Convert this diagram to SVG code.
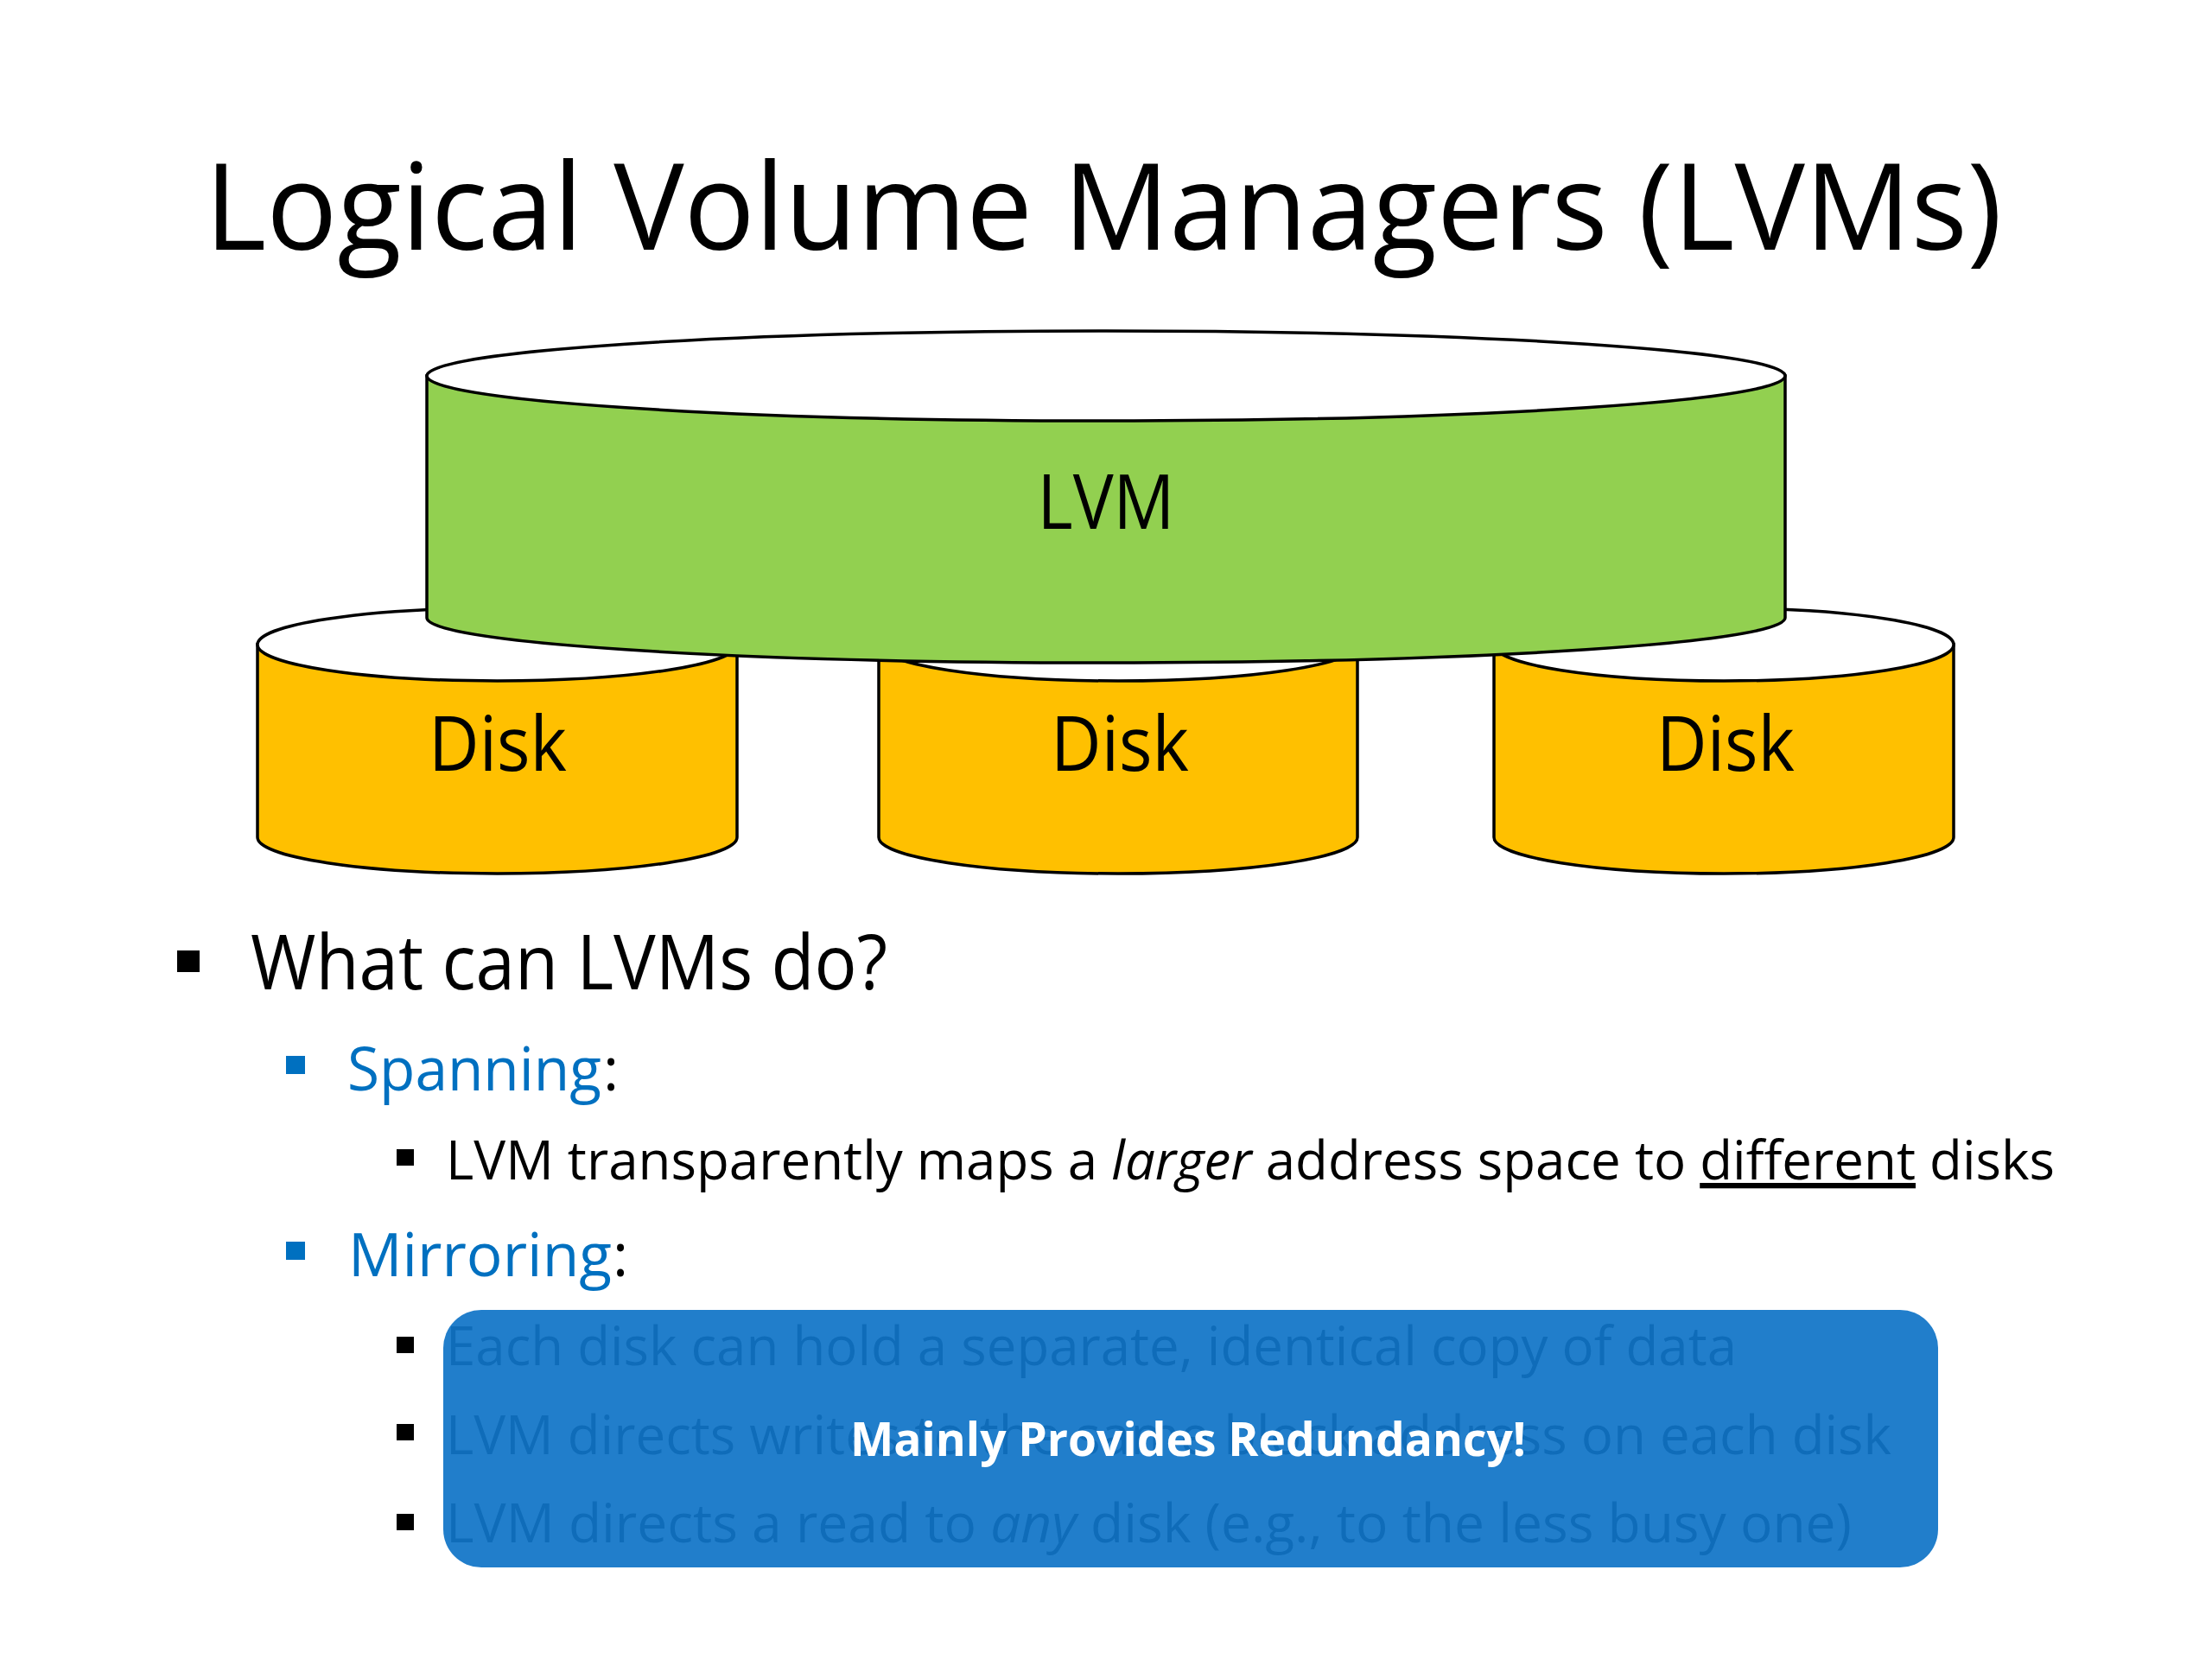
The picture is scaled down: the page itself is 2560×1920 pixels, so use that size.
<svg xmlns="http://www.w3.org/2000/svg" width="2560" height="1920" viewBox="0 0 2560 1920">
<style>
text { font-family: "Open Sans", "Noto Sans", "Liberation Sans", sans-serif; fill: #000; }
.title { font-size: 139px; }
.lbl { font-size: 88px; text-anchor: middle; }
.l1 { font-size: 87px; }
.l2 { font-size: 69px; }
.l3 { font-size: 63px; }
.blue { fill: #0070c0; }
.cap { fill: #fff; stroke: #000; stroke-width: 3.5; }
.green { fill: #92d050; stroke: #000; stroke-width: 3.5; }
.yellow { fill: #ffc000; stroke: #000; stroke-width: 3.5; }
.b1 { fill: #000; }
.b2 { fill: #0070c0; }
.hl { font-size: 53px; font-weight: 700; fill: #fff; }
.box { fill: #1074c7; fill-opacity: 0.93; }
</style>
<rect width="2560" height="1920" fill="#fff"/>
<g id="title">
<text class="title" x="237" y="289" textLength="2080" lengthAdjust="spacingAndGlyphs">Logical Volume Managers (LVMs)</text>
</g>
<g id="connectors"></g>
<g id="disk1">
<path class="yellow" d="M298,746 V969 A277.5,42 0 0 0 853,969 V746 Z"/>
<ellipse class="cap" cx="575.5" cy="746" rx="277.5" ry="42"/>
<text class="lbl" x="576" y="892" textLength="160" lengthAdjust="spacingAndGlyphs">Disk</text>
</g>
<g id="disk2">
<path class="yellow" d="M1017,746 V969 A277,42 0 0 0 1571,969 V746 Z"/>
<ellipse class="cap" cx="1294" cy="746" rx="277" ry="42"/>
<text class="lbl" x="1296" y="892" textLength="160" lengthAdjust="spacingAndGlyphs">Disk</text>
</g>
<g id="disk3">
<path class="yellow" d="M1729,746 V969 A266,42 0 0 0 2261,969 V746 Z"/>
<ellipse class="cap" cx="1995" cy="746" rx="266" ry="42"/>
<text class="lbl" x="1997" y="892" textLength="160" lengthAdjust="spacingAndGlyphs">Disk</text>
</g>
<g id="lvm">
<path class="green" d="M494,435 V715 A786,52 0 0 0 2066,715 V435 Z"/>
<ellipse class="cap" cx="1280" cy="435" rx="786" ry="52"/>
<text class="lbl" x="1280" y="612" textLength="159" lengthAdjust="spacingAndGlyphs">LVM</text>
</g>
<g id="bullets">
<rect class="b1" x="205" y="1100" width="26" height="25"/>
<text class="l1" x="290" y="1145" textLength="737" lengthAdjust="spacingAndGlyphs">What can LVMs do?</text>
<rect class="b2" x="331" y="1222" width="22" height="21"/>
<text class="l2 blue" x="402" y="1262" textLength="294" lengthAdjust="spacingAndGlyphs">Spanning</text>
<text class="l2" x="698" y="1262">:</text>
<rect class="b1" x="459" y="1330" width="20" height="19"/>
<text class="l3" x="516" y="1365" textLength="1862" lengthAdjust="spacingAndGlyphs">LVM transparently maps a <tspan font-style="italic">larger</tspan> address space to <tspan text-decoration="underline">different</tspan> disks</text>
<rect class="b2" x="331" y="1437" width="22" height="21"/>
<text class="l2 blue" x="403" y="1477" textLength="305" lengthAdjust="spacingAndGlyphs">Mirroring</text>
<text class="l2" x="709" y="1477">:</text>
<rect class="b1" x="459" y="1547" width="20" height="19"/>
<text class="l3" x="516" y="1580" textLength="1494" lengthAdjust="spacingAndGlyphs">Each disk can hold a separate, identical copy of data</text>
<rect class="b1" x="459" y="1648" width="20" height="19"/>
<text class="l3" x="516" y="1683" textLength="1673" lengthAdjust="spacingAndGlyphs">LVM directs writes to the same block address on each disk</text>
<rect class="b1" x="459" y="1752" width="20" height="19"/>
<text class="l3" x="516" y="1785" textLength="1627" lengthAdjust="spacingAndGlyphs">LVM directs a read to <tspan font-style="italic">any</tspan> disk (e.g., to the less busy one)</text>
</g>
<g id="callout">
<rect class="box" x="513" y="1516" width="1730" height="298" rx="44"/>
<text class="hl" x="984" y="1685" textLength="782" lengthAdjust="spacingAndGlyphs">Mainly Provides Redundancy!</text>
</g>
</svg>
